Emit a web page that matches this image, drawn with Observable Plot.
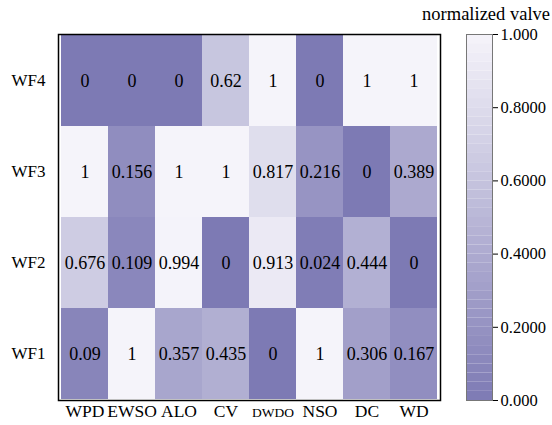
<!DOCTYPE html>
<html><head><meta charset="utf-8">
<script src="https://cdn.jsdelivr.net/npm/d3@7"></script>
<script src="https://cdn.jsdelivr.net/npm/@observablehq/plot@0.6"></script>
</head><body style="margin:0;background:#fff;font-family:'Liberation Serif'">
<div id="wrap" style="position:relative;width:552px;height:425px;font-family:'Liberation Serif';background:#fff;">
<div id="title" style="position:absolute;right:2px;top:4px;font-size:18.5px;white-space:nowrap;font-family:'Liberation Serif'">normalized valve</div>
</div>
<script>
const factors = ["WPD","EWSO","ALO","CV","DWDO","NSO","DC","WD"];
const rows = ["WF4","WF3","WF2","WF1"];
const wf1 = [0.09,1,0.357,0.435,0,1,0.306,0.167];
const wf2 = [0.676,0.109,0.994,0,0.913,0.024,0.444,0];
const wf3 = [1,0.156,1,1,0.817,0.216,0,0.389];
const wf4 = [0,0,0,0.62,1,0,1,1];
const legendTicks = [0,0.2,0.4,0.6,0.8,1];
const legendTickLabels = ["0.000","0.2000","0.4000","0.6000","0.8000","1.000"];
const colorLow = "#7d7ab4", colorHigh = "#f5f4fa";

const series = {WF1: wf1, WF2: wf2, WF3: wf3, WF4: wf4};
const data = [];
for (const r of rows) series[r].forEach((v, i) => data.push({x: factors[i], y: r, v}));

const font = "Liberation Serif";
const color = {type: "linear", domain: [0, 1], range: [colorLow, colorHigh], interpolate: "rgb"};

const main = Plot.plot({
  width: 552, height: 425,
  marginLeft: 58, marginRight: 112, marginTop: 34, marginBottom: 25,
  style: {fontFamily: font, fontSize: "17px", background: "transparent", color: "black", position: "absolute", left: "0px", top: "0px"},
  x: {domain: factors, padding: 0, axis: null},
  y: {domain: rows, padding: 0, tickSize: 0, tickPadding: 13, label: null},
  color,
  marks: [
    Plot.cell(data, {x: "x", y: "y", fill: "v"}),
    Plot.text(data, {x: "x", y: "y", text: d => String(d.v), fontSize: 18, fontFamily: font, fill: "black"}),
    Plot.text(factors, {x: d => d, frameAnchor: "bottom", dy: 16, text: d => d, fill: "black", fontFamily: font,
      fontSize: d => d === "DWDO" ? 13.5 : 17.5}),
    Plot.frame({stroke: "black", strokeWidth: 1.5})
  ]
});

const nb = 40;
const bands = d3.range(nb).map(i => ({y1: i / nb, y2: (i + 1) / nb}));
const leg = Plot.plot({
  width: 552, height: 425,
  marginLeft: 466, marginRight: 60, marginTop: 34, marginBottom: 25,
  style: {fontFamily: font, fontSize: "16.5px", background: "transparent", color: "black", position: "absolute", left: "0px", top: "0px"},
  x: {axis: null},
  y: {domain: [0, 1], axis: "right", ticks: legendTicks,
      tickFormat: d => legendTickLabels[legendTicks.indexOf(d)], tickSize: 5, tickPadding: 3, label: null},
  color,
  marks: [
    Plot.rectY(bands, {y1: "y1", y2: "y2", fill: d => (d.y1 + d.y2) / 2}),
    Plot.frame({stroke: "#777", strokeWidth: 1})
  ]
});

const wrap = document.getElementById("wrap");
wrap.appendChild(main);
wrap.appendChild(leg);
</script>
</body></html>
